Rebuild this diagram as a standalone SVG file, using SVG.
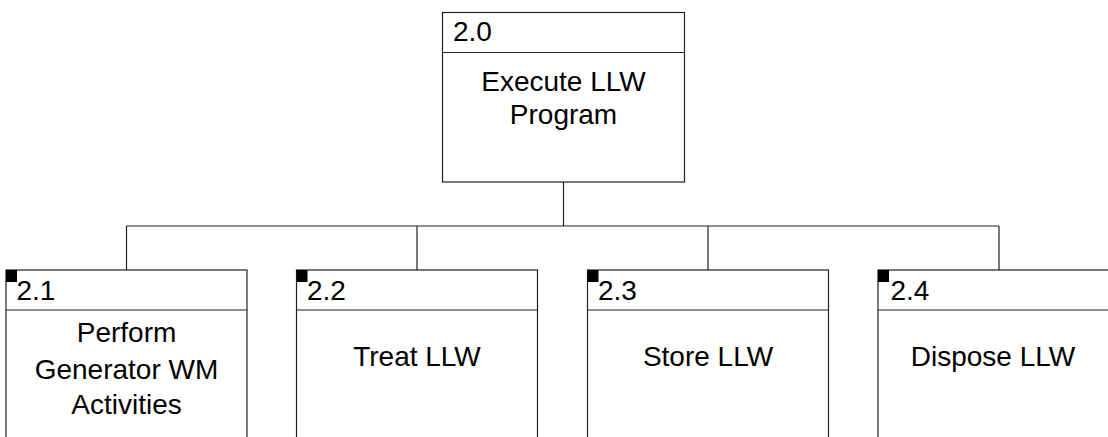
<svg xmlns="http://www.w3.org/2000/svg" width="1108" height="437" viewBox="0 0 1108 437">
<style>
.box{fill:#fff;stroke:#222;stroke-width:1.2}
.ln{fill:none;stroke:#222;stroke-width:1.2}
.id{font-family:"Liberation Sans",Arial,sans-serif;font-size:28px;fill:#000}
.t{font-family:"Liberation Sans",Arial,sans-serif;font-size:28px;fill:#000;text-anchor:middle}
.sq{fill:#000}
</style>
<rect width="1108" height="437" fill="#fff"/>
<g id="connectors">
<path class="ln" d="M563.5 182V226M126.5 226H999M126.5 226V270M417 226V270M708 226V270M999 226V270"/>
</g>
<g id="n2_0">
<rect class="box" x="442.5" y="12.5" width="242" height="169.5"/>
<line class="ln" x1="442.5" y1="52.5" x2="684.5" y2="52.5"/>
<text class="id" x="453" y="40.5">2.0</text>
<text class="t" x="563.5" y="90.5">Execute LLW</text>
<text class="t" x="563.5" y="124">Program</text>
</g>
<g id="n2_1">
<rect class="box" x="6" y="270" width="241" height="180"/>
<line class="ln" x1="6" y1="310" x2="247" y2="310"/>
<rect class="sq" x="6" y="270" width="11" height="12"/>
<text class="id" x="16.5" y="300">2.1</text>
<text class="t" x="126.5" y="341.5">Perform</text>
<text class="t" x="126.5" y="378.5">Generator WM</text>
<text class="t" x="126.5" y="414">Activities</text>
</g>
<g id="n2_2">
<rect class="box" x="296.5" y="270" width="241" height="180"/>
<line class="ln" x1="296.5" y1="310" x2="537.5" y2="310"/>
<rect class="sq" x="296.5" y="270" width="11" height="12"/>
<text class="id" x="307" y="300">2.2</text>
<text class="t" x="417" y="365.5">Treat LLW</text>
</g>
<g id="n2_3">
<rect class="box" x="587.5" y="270" width="241" height="180"/>
<line class="ln" x1="587.5" y1="310" x2="828.5" y2="310"/>
<rect class="sq" x="587.5" y="270" width="11" height="12"/>
<text class="id" x="598" y="300">2.3</text>
<text class="t" x="708" y="365.5">Store LLW</text>
</g>
<g id="n2_4">
<rect class="box" x="878" y="270" width="241" height="180"/>
<line class="ln" x1="878" y1="310" x2="1119" y2="310"/>
<rect class="sq" x="878" y="270" width="11" height="12"/>
<text class="id" x="890.5" y="300">2.4</text>
<text class="t" x="993" y="365.5">Dispose LLW</text>
</g>
</svg>
